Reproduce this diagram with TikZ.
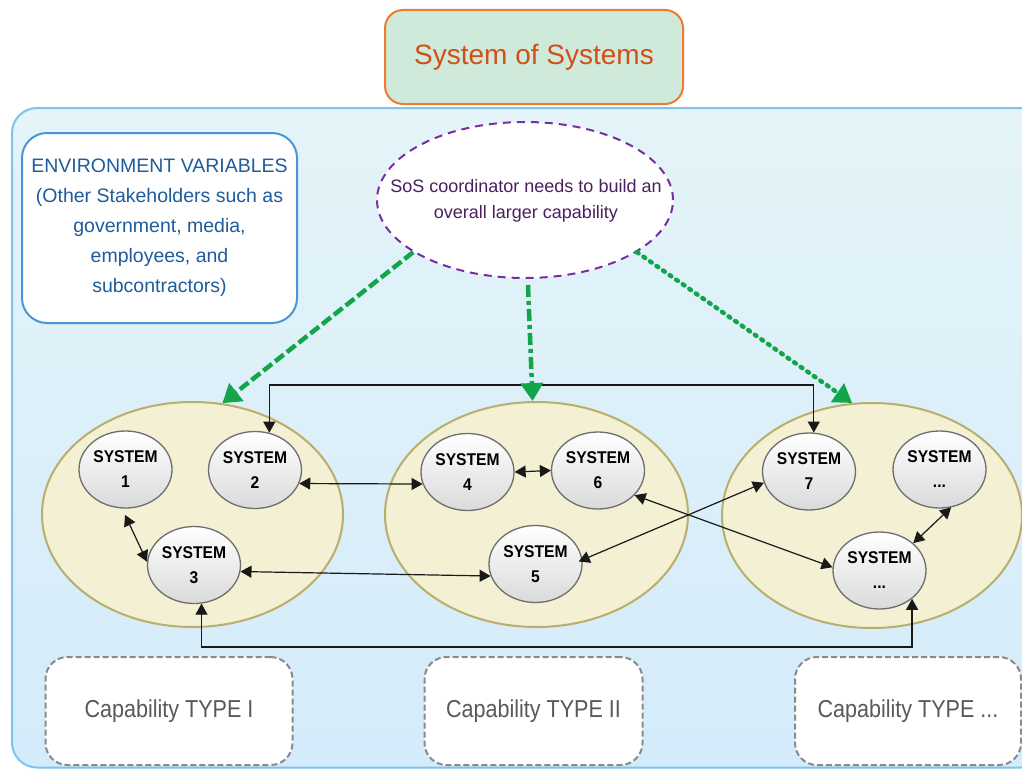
\documentclass[tikz,border=0pt]{standalone}
\usepackage{fontspec}
\setmainfont{Liberation Sans}
\newfontfamily\capfont{Liberation Sans}[FakeStretch=0.88]
\newfontfamily\sysfont{Liberation Sans}[FakeStretch=0.92]
\usetikzlibrary{shapes.geometric,arrows.meta,calc}
\definecolor{bgtop}{HTML}{E4F4F8}
\definecolor{bgbot}{HTML}{D4EBFB}
\definecolor{bgline}{HTML}{7CC4EE}
\definecolor{titlefill}{HTML}{CFEADB}
\definecolor{titleline}{HTML}{EE7B30}
\definecolor{titletext}{HTML}{D0501A}
\definecolor{envline}{HTML}{4A95D6}
\definecolor{envtext}{HTML}{1F5C9B}
\definecolor{coordline}{HTML}{7A2FA0}
\definecolor{coordtext}{HTML}{4A1F5E}
\definecolor{grpfill}{HTML}{F3F0D3}
\definecolor{grpline}{HTML}{B9AE6B}
\definecolor{sysline}{HTML}{6E6E6E}
\definecolor{sysbot}{HTML}{DADADA}
\definecolor{capline}{HTML}{8A8A8A}
\definecolor{captext}{HTML}{595959}
\definecolor{grn}{HTML}{12A54A}
\begin{document}
\begin{tikzpicture}[x=1pt,y=-1pt,
  bgbox/.style={rectangle,rounded corners=25pt,draw=bgline,line width=2pt,top color=bgtop,bottom color=bgbot,inner sep=0pt},
  titlebox/.style={rectangle,rounded corners=18pt,draw=titleline,line width=2pt,fill=titlefill,inner sep=0pt,minimum width=298pt,minimum height=94pt,text=titletext,font=\fontsize{28}{32}\selectfont},
  envbox/.style={rectangle,rounded corners=25pt,draw=envline,line width=2pt,fill=white,inner sep=0pt,minimum width=275pt,minimum height=190pt,text=envtext,align=center,font=\fontsize{19.5}{30}\selectfont},
  coordell/.style={ellipse,draw=coordline,line width=2pt,dash pattern=on 8pt off 6pt,fill=white,inner sep=0pt,minimum width=296pt,minimum height=156pt},
  coordlabel/.style={inner sep=0pt,text=coordtext,align=center,font=\fontsize{18}{26}\selectfont},
  grp/.style={ellipse,draw=grpline,line width=2pt,fill=grpfill,inner sep=0pt,minimum width=301pt,minimum height=225pt},
  sys/.style={ellipse,draw=sysline,line width=1.3pt,top color=white,bottom color=sysbot,inner sep=0pt,minimum width=93pt,minimum height=77pt,align=center,font=\sysfont\bfseries\fontsize{17}{25}\selectfont},
  capbox/.style={rectangle,rounded corners=22pt,draw=capline,line width=2pt,dash pattern=on 6pt off 3pt,fill=white,inner sep=0pt,minimum height=108pt,text=captext,font=\capfont\fontsize{24.5}{28}\selectfont},
  link/.style={draw=black!90,line width=1.2pt,{Triangle[length=11pt,width=12pt]}-{Triangle[length=11pt,width=12pt]}},
  garrow/.style={draw=grn,line width=4.5pt,-{Triangle[length=18pt,width=22pt]}}
]
\useasboundingbox (0,0) rectangle (1022,768);
% background
\node[bgbox,minimum width=1040pt,minimum height=659.5pt] (bg) at (532,437.75) {};
% title
\node[titlebox] (title) at (534,57) {System of Systems};
% environment
\node[envbox] (env) at (159.5,228) {ENVIRONMENT VARIABLES\\(Other Stakeholders such as\\government, media,\\employees, and\\subcontractors)};
% coordinator
\node[coordell] (coord) at (525,200) {};
\node[coordlabel] (coordtxt) at (526,201) {SoS coordinator needs to build an\\overall larger capability};
% groups
\node[grp] (g1) at (192.5,514.5) {};
\node[grp,minimum width=303pt] (g2) at (536.5,514.5) {};
\node[grp,minimum width=300pt] (g3) at (872,515.5) {};
% capability boxes
\node[capbox,minimum width=247pt] (c1) at (169,711) {Capability TYPE I};
\node[capbox,minimum width=218pt] (c2) at (533.5,711) {Capability TYPE II};
\node[capbox,minimum width=226pt] (c3) at (908,711) {Capability TYPE ...};
% systems
\node[sys] (s1) at (125.5,469.5) {SYSTEM\\1};
\node[sys] (s2) at (255,470) {SYSTEM\\2};
\node[sys] (s3) at (194,565) {SYSTEM\\3};
\node[sys] (s4) at (467.5,472) {SYSTEM\\4};
\node[sys] (s6) at (598,470.5) {SYSTEM\\6};
\node[sys] (s5) at (535.5,564) {SYSTEM\\5};
\node[sys] (s7) at (809,471.5) {SYSTEM\\7};
\node[sys] (st) at (939.5,469.5) {SYSTEM\\...};
\node[sys] (sb) at (879.5,570.5) {SYSTEM\\...};
% helper coordinates
\coordinate (topline) at (0,385);
\coordinate (botline) at (0,647);
% links
\draw[link] (s2.69) -- (s2.69 |- topline) -| (s7.83);
\draw[link] (s3.-79) -- (s3.-79 |- botline) -| (sb.-41);
\draw[link] (s2.-17) -- (s4.195);
\draw[link] (s4.east) -- (s6.west);
\draw[link,shorten <=7pt] (s1.265) -- (s3.176);
\draw[link] (s3.-8) -- (s5.195);
\draw[link,shorten <=-4pt] (s5.5) -- (s7.194);
\draw[link] (s6.-34) -- (sb.176);
\draw[link] (st.-73) -- (sb.39);
% green arrows
\draw[garrow,dash pattern=on 11pt off 4pt] (coord.205) -- (g1.75);
\draw[garrow,dash pattern=on 12pt off 4pt on 4pt off 4pt,shorten <=6pt] (coord.-88) -- (g2.92);
\draw[garrow,line cap=round,dash pattern=on 2pt off 6pt] (coord.-25) -- (g3.100);
\end{tikzpicture}
\end{document}
